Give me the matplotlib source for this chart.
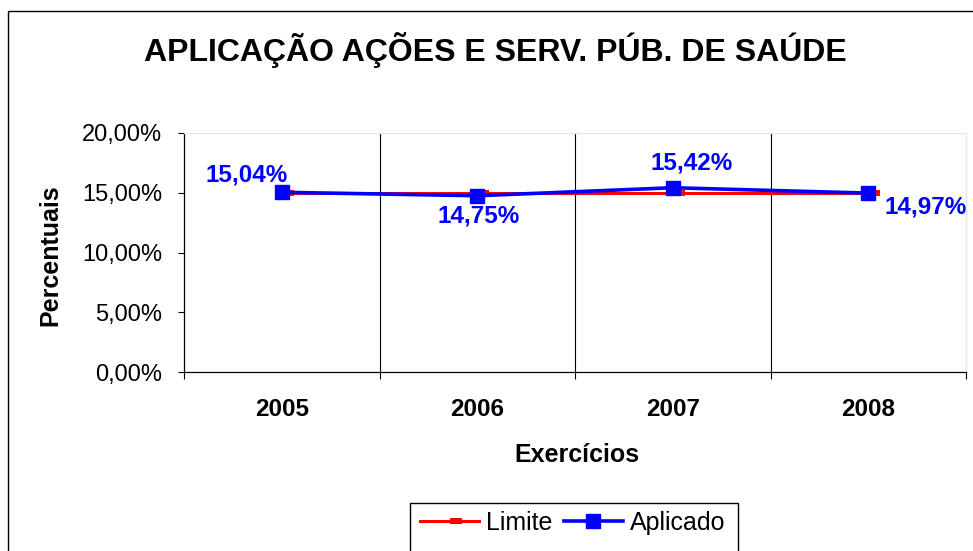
import numpy as np
import matplotlib
matplotlib.use("Agg")
import matplotlib.pyplot as plt
from matplotlib.path import Path
from matplotlib.patches import Rectangle
from matplotlib.ticker import FuncFormatter, FixedLocator

plt.rcParams['font.family'] = ['Liberation Sans', 'DejaVu Sans']

# ---- data ----
years = ["2005", "2006", "2007", "2008"]
limite = [15.00, 15.00, 15.00, 15.00]
aplicado = [15.04, 14.75, 15.42, 14.97]
yticks = [0, 5, 10, 15, 20]
title = "APLICAÇÃO AÇÕES E SERV. PÚB. DE SAÚDE"
xlabel = "Exercícios"
ylabel = "Percentuais"
series_names = ["Limite", "Aplicado"]

# label offsets (points) for the data labels, styling only
label_offsets = [(-25, 12.2), (0.7, -14.4), (13.7, 18), (41, -10)]

W, H = 973, 551
fig = plt.figure(figsize=(W / 100, H / 100), dpi=100)
fig.patch.set_facecolor('white')

def fx(px):
    return px / W

def fy(py):
    return 1 - py / H

ax = fig.add_axes([fx(184), fy(372), fx(966) - fx(184), fy(133) - fy(372)])

x = np.arange(len(years))

# Limite marker: short bar extending to the right of the point
red_marker = Path([(0, -0.25), (1, -0.25), (1, 0.25), (0, 0.25), (0, -0.25)],
                  [Path.MOVETO, Path.LINETO, Path.LINETO, Path.LINETO, Path.CLOSEPOLY])

ax.plot(x, limite, color='#ff0000', lw=2.2, marker=red_marker, markersize=17.3,
        markerfacecolor='#ff0000', markeredgecolor='#ff0000', markeredgewidth=0,
        label=series_names[0], zorder=3)
ax.plot(x, aplicado, color='#0000ff', lw=2.6, marker='s', markersize=9.5,
        markerfacecolor='#0000ff', markeredgecolor='#0000ff',
        label=series_names[1], zorder=4)

for xi, v, (dx, dy) in zip(x, aplicado, label_offsets):
    ax.annotate(f"{v:.2f}%".replace('.', ','), (xi, v), xytext=(dx, dy),
                textcoords='offset points', ha='center', va='center',
                color='#0000ff', fontsize=17.5, fontweight='bold', zorder=5)

ax.set_xlim(-0.5, len(years) - 0.5)
ax.set_ylim(yticks[0], yticks[-1])

# x ticks: labels at centers, tick marks at boundaries
ax.set_xticks(x)
ax.set_xticklabels(years, fontsize=17.5, fontweight='bold')
ax.tick_params(axis='x', which='major', length=0, pad=19)
bounds = np.arange(len(years) + 1) - 0.5
ax.xaxis.set_minor_locator(FixedLocator(bounds))
ax.tick_params(axis='x', which='minor', length=5, width=0.8, direction='out', color='black')
ax.vlines(bounds[1:-1], 0, 1, transform=ax.get_xaxis_transform(), color='black', lw=0.8, zorder=1)

# y ticks
ax.set_yticks(yticks)
ax.yaxis.set_major_formatter(FuncFormatter(lambda v, p: f"{v:.2f}%".replace('.', ',')))
ax.tick_params(axis='y', which='major', length=4.5, width=0.8, direction='out', pad=11,
               labelsize=17, color='black')
ax.yaxis.set_minor_locator(FixedLocator(yticks[1:-1]))
ax.tick_params(axis='y', which='minor', length=0)
ax.yaxis.grid(True, which='minor', color='black', lw=0.8)
ax.set_axisbelow(True)

for s in ['left', 'bottom']:
    ax.spines[s].set_color('black')
    ax.spines[s].set_linewidth(0.9)
for s in ['top', 'right']:
    ax.spines[s].set_color('#e6e6e6')
    ax.spines[s].set_linewidth(0.9)

ax.set_ylabel(ylabel, fontsize=18, fontweight='bold')
ax.yaxis.label.set_va('center')
ax.yaxis.set_label_coords((50 - 184) / 782, (372 - 255) / 239)
ax.set_xlabel(xlabel, fontsize=18, fontweight='bold')
ax.xaxis.label.set_va('center')
ax.xaxis.set_label_coords((577 - 184) / 782, (372 - 455) / 239)

fig.text(fx(495.5), fy(50), title, ha='center', va='center', fontsize=23, fontweight='bold')

# legend
handles, labels = ax.get_legend_handles_labels()
leg = fig.legend(handles, labels, loc='center', bbox_to_anchor=(fx(573), fy(523)),
                 ncol=2, frameon=False, fontsize=18, handlelength=2.33,
                 handletextpad=0.3, columnspacing=0.47, borderpad=0, borderaxespad=0)
fig.patches.append(Rectangle((fx(410), -0.1), fx(738) - fx(410), fy(503) + 0.1,
                             transform=fig.transFigure, fill=False, edgecolor='black',
                             lw=1.0, clip_on=False))

# outer chart border
fig.patches.append(Rectangle((fx(8), -0.1), 1.2, fy(11) + 0.1, transform=fig.transFigure,
                             fill=False, edgecolor='black', lw=1.0, clip_on=False))

fig.savefig("out.png", dpi=100)
